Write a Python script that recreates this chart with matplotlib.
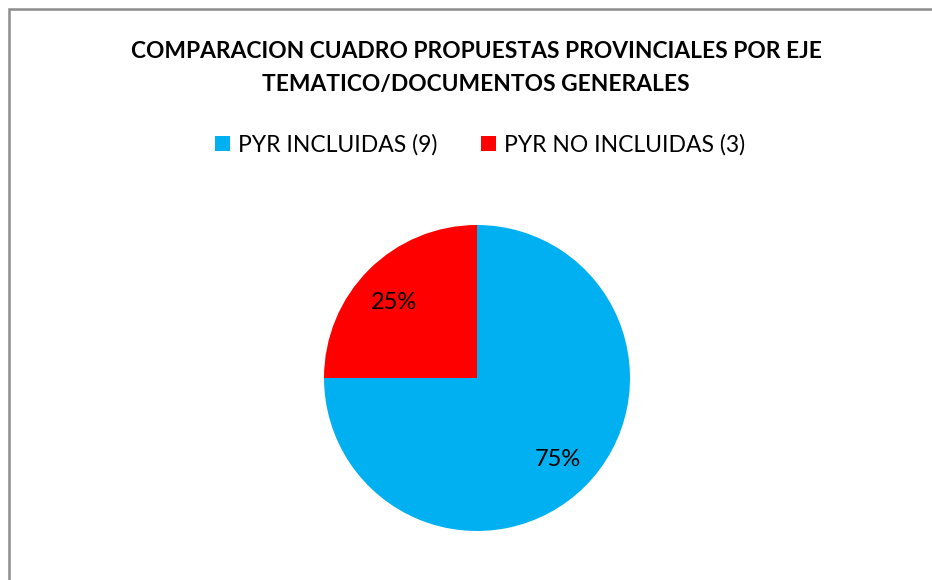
import matplotlib
matplotlib.use("Agg")
import matplotlib.pyplot as plt
from matplotlib.patches import Rectangle, Patch

title = "COMPARACION CUADRO PROPUESTAS PROVINCIALES POR EJE\nTEMATICO/DOCUMENTOS GENERALES"
categories = ["PYR INCLUIDAS (9)", "PYR NO INCLUIDAS (3)"]
values = [9, 3]
colors = ["#00B0F0", "#FF0000"]

plt.rcParams['font.family'] = ['Lato', 'DejaVu Sans']

W, H = 932, 580
fig = plt.figure(figsize=(W / 100, H / 100), dpi=100)
fig.patch.set_facecolor("white")

# chart border
fig.patches.append(Rectangle((9 / W, -0.1), 1.2, 1.1 - 9 / H, transform=fig.transFigure,
                             fill=False, edgecolor="#8c8c8c", linewidth=1.8))

ax = fig.add_axes([324 / W, (H - 531) / H, 306 / W, 306 / H])
wedges, texts, autotexts = ax.pie(values, colors=colors, startangle=90, counterclock=False,
                                  autopct='%1.0f%%', pctdistance=0.75, radius=1,
                                  textprops=dict(fontsize=17, color="black"))
autotexts[1].set_position((autotexts[1].get_position()[0] - 0.01, autotexts[1].get_position()[1] - 0.04))
ax.set_xlim(-1, 1)
ax.set_ylim(-1, 1)
ax.set_aspect('equal')

fig.text(476 / W, 1 - 68 / H, title, ha="center", va="center", fontsize=16.4,
         fontweight="bold", linespacing=1.75)

handles = [Patch(facecolor=c, edgecolor="none") for c in colors]
fig.legend(handles, categories, loc="center", bbox_to_anchor=(480 / W, 1 - 145 / H),
           ncol=2, frameon=False, fontsize=16.5, handlelength=0.65, handleheight=0.65,
           handletextpad=0.35, columnspacing=1.9)

fig.savefig("out.png", dpi=100, facecolor="white")
